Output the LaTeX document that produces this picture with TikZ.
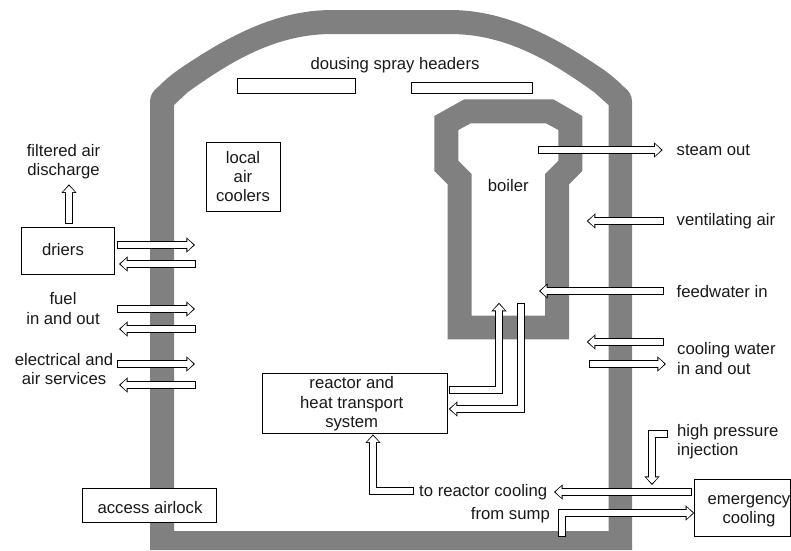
\documentclass[tikz,border=0pt]{standalone}
\usepackage{fontspec}
\setmainfont{Liberation Sans}
\usepackage{xcolor}
\definecolor{WallGray}{HTML}{808080}
\usepackage{tikz}
\usetikzlibrary{arrows.meta}

\begin{document}
\begin{tikzpicture}[x=1pt,y=-1pt,
  every node/.style={font=\fontsize{16.7}{19.2}\selectfont,text=black!90},
  lbl/.style={inner sep=0pt,align=center},
  boxed/.style={draw,fill=white,line width=.9pt,inner sep=0pt,align=center},
  wall/.style={fill=WallGray,even odd rule},
  pipe/.style={line width=6pt,color=white,shorten >=1.5pt,shorten <=1pt,
    -{Triangle[length=6.2pt,width=11.4pt]},
    preaction={draw=black,line width=8pt,shorten >=0pt,shorten <=0pt,
      -{Triangle[length=8.6pt,width=14.6pt]}}}]
\useasboundingbox (0,0) rectangle (791,550);
% containment wall and boiler shell
\fill[wall] (150,550) -- (150,102) .. controls (150,95) and (153,91) .. (158,87)
  .. controls (164,81) and (171,75) .. (178,70)
  .. controls (225,38) and (275,10) .. (332,10) -- (450,10)
  .. controls (507,10) and (557,38) .. (604,70)
  .. controls (611,75) and (618,81) .. (624,87)
  .. controls (629,91) and (632,95) .. (632,102) -- (632,550) -- cycle
  (174,531) -- (174,105) -- (188,92) .. controls (230,62) and (275,34) .. (332,34)
  -- (450,34) .. controls (507,34) and (552,62) .. (594,92) -- (608.5,105)
  -- (608.5,531) -- cycle;
\fill[wall] (434.3,116) -- (464.3,99.3) -- (553.3,99.3) -- (582.3,116) -- (582.3,171)
  -- (569,184.3) -- (569,339.3) -- (447.7,339.3) -- (447.7,184.3) -- (434.3,171) -- cycle
  (458.3,130) -- (470.7,123.3) -- (546,123.3) -- (558.3,130) -- (558.3,160.7)
  -- (545,174) -- (545,315.7) -- (471.7,315.7) -- (471.7,174) -- (458.3,160.7) -- cycle;

% boxes
\node[boxed,minimum width=93pt,minimum height=46.7pt,
  label={[lbl,xshift=-4.8pt,yshift=1.5pt]center:driers}] (driers) at (67.8,250.6) {};
\node[boxed,minimum width=74pt,minimum height=69.7pt] (coolers) at (243,176.8)
  {local\\air\\coolers};
\node[boxed,minimum width=185pt,minimum height=60pt,
  label={[lbl,xshift=-3.5pt,yshift=-.5pt]center:{reactor and\\heat transport\\system}}]
  (reactor) at (355.2,403.3) {};
\node[boxed,minimum width=133.3pt,minimum height=33.6pt,
  label={[lbl,xshift=.7pt,yshift=-2.5pt]center:access airlock}] (airlock) at (149.3,505.5) {};
\node[boxed,minimum width=95.6pt,minimum height=57.7pt,
  label={[lbl,xshift=6.5pt,yshift=-3.7pt]center:{emergency\\cooling}}]
  (emergency) at (742.5,507.8) {};
\node[boxed,minimum width=118.4pt,minimum height=14.7pt] (header a) at (296.5,85.7) {};
\node[boxed,minimum width=120.7pt,minimum height=11pt] (header b) at (471.7,87.5) {};

% labels
\node[lbl] (dousing) at (395,65) {dousing spray headers};
\node[lbl] (boiler) at (508.3,185.7) {boiler};
\node[lbl] (filtered) at (63.5,161.7) {filtered air\\discharge};
\node[lbl] (fuel) at (63,308.5) {fuel\\in and out};
\node[lbl] (services) at (64,369) {electrical and\\air services};
\node[lbl,anchor=west] (steam) at (676.5,150) {steam out};
\node[lbl,anchor=west] (vent) at (676.5,221) {ventilating air};
\node[lbl,anchor=west] (feed) at (676.5,292) {feedwater in};
\node[lbl,anchor=west,align=left] (water) at (677,358.5) {cooling water\\in and out};
\node[lbl,anchor=west,align=left] (injection) at (677,442) {high pressure\\injection};
\node[lbl,anchor=east] (toreactor) at (547.5,492) {to reactor cooling};
\node[lbl,anchor=east] (sump) at (550,515) {from sump};

% free ends of the pipes
\coordinate (dis in) at (69,224);   \coordinate (dis out) at (69,184.3);
\coordinate (dr1 a) at (117,245);   \coordinate (dr1 b) at (195,245);
\coordinate (dr2 a) at (196,264);   \coordinate (dr2 b) at (119,264);
\coordinate (fu1 a) at (117,309);   \coordinate (fu1 b) at (195,309);
\coordinate (fu2 a) at (196,329);   \coordinate (fu2 b) at (119,329);
\coordinate (el1 a) at (117,364);   \coordinate (el1 b) at (195,364);
\coordinate (el2 a) at (196,385);   \coordinate (el2 b) at (119,385);
\coordinate (st a) at (538,150);    \coordinate (st b) at (662.7,150);
\coordinate (ve a) at (664,221);    \coordinate (ve b) at (586.7,221);
\coordinate (fw a) at (664,291);    \coordinate (fw b) at (539,291);
\coordinate (cw1 a) at (664,342);   \coordinate (cw1 b) at (586.7,342);
\coordinate (cw2 a) at (589,364);   \coordinate (cw2 b) at (666,364);
\coordinate (up a) at (449,390);    \coordinate (up b) at (499,390);
\coordinate (up c) at (499,302.7);
\coordinate (dn a) at (521,303);    \coordinate (dn b) at (521,409);
\coordinate (dn c) at (448.7,409);
\coordinate (rc a) at (414,491);    \coordinate (rc b) at (373,491);
\coordinate (rc c) at (373,434.3);
\coordinate (hp a) at (668,434);    \coordinate (hp b) at (652,434);
\coordinate (hp c) at (652,485);
\coordinate (tc a) at (692,492);    \coordinate (tc b) at (554,492);
\coordinate (su a) at (562,537);    \coordinate (su b) at (562,513);
\coordinate (su c) at (694.3,513);

% pipes
\draw[pipe] (dis in) -- (dis out);
\draw[pipe] (dr1 a) -- (dr1 b);
\draw[pipe] (dr2 a) -- (dr2 b);
\draw[pipe] (fu1 a) -- (fu1 b);
\draw[pipe] (fu2 a) -- (fu2 b);
\draw[pipe] (el1 a) -- (el1 b);
\draw[pipe] (el2 a) -- (el2 b);
\draw[pipe] (st a) -- (st b);
\draw[pipe] (ve a) -- (ve b);
\draw[pipe] (fw a) -- (fw b);
\draw[pipe] (cw1 a) -- (cw1 b);
\draw[pipe] (cw2 a) -- (cw2 b);
\draw[pipe] (up a) -- (up b) -- (up c);
\draw[pipe] (dn a) -- (dn b) -- (dn c);
\draw[pipe] (rc a) -- (rc b) -- (rc c);
\draw[pipe] (tc a) -- (tc b);
\draw[pipe] (hp a) -- (hp b) -- (hp c);
\draw[pipe] (su a) -- (su b) -- (su c);
\end{tikzpicture}
\end{document}
